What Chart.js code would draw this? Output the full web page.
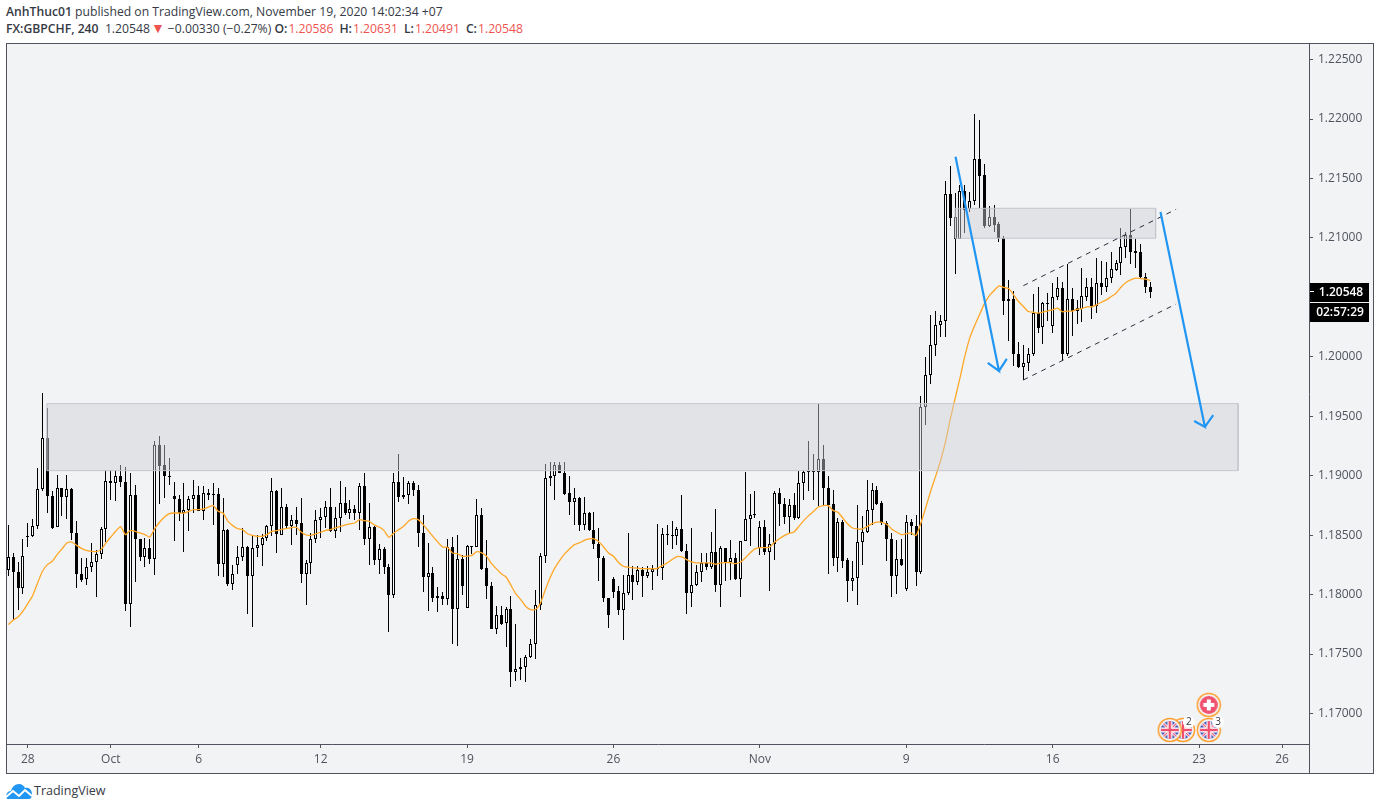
<!DOCTYPE html>
<html>
<head>
<meta charset="utf-8">
<title>GBPCHF 240</title>
<script src="https://cdn.jsdelivr.net/npm/chart.js@4/dist/chart.umd.js"></script>
<style>
  html, body { margin: 0; padding: 0; background: #fff; width: 1380px; height: 810px; overflow: hidden; font-family: "Open Sans", sans-serif; color: #363a45; }
  .head { position: absolute; left: 6px; font-size: 12.2px; line-height: 16px; white-space: nowrap; }
  .head b { font-weight: 600; }
  .red { color: #ef5350; margin-left: 1px; }
  .tri { color: #ef5350; font-size: 14px; line-height: 14px; margin: 0 3px 0 1px; }
  .gap { margin-left: 6px; }
  #panel { position: absolute; left: 6px; top: 43px; width: 1366px; height: 729px; border: 1px solid #50535e; background: #f2f3f5; }
  #divider { position: absolute; left: 1302px; top: 700px; width: 1px; height: 29px; background: #50535e; }
  canvas { position: absolute; left: 0; top: 0; }
  #logo { position: absolute; left: 6px; top: 784px; }
  #brand { position: absolute; left: 34px; top: 782px; font-size: 12.5px; line-height: 18px; color: #363a45; }
</style>
</head>
<body>
<div class="head" style="top:4px"><b>AnhThuc01</b> published on TradingView.com, November 19, 2020 14:02:34 +07</div>
<div class="head" style="top:21px"><b>FX:GBPCHF, 240</b>&nbsp; 1.20548<span class="tri">▼</span>−0.00330 (−0.27%) <b>O:</b><span class="red">1.20586</span><b class="gap">H:</b><span class="red">1.20631</span><b class="gap">L:</b><span class="red">1.20491</span><b class="gap">C:</b><span class="red">1.20548</span></div>
<div id="panel"><canvas id="chart" width="1366" height="729"></canvas><div id="divider"></div></div>
<svg id="logo" width="27" height="16" viewBox="0 0 27 16"><path d="M1 15C-1 10 2 7 5 7C6 3 9 0 13 0C16 0 18 2 19 4C23 3 26 6 26 10C26 13 25 15 23 15Z" fill="#2196f3"/><polyline points="0,13 7,7 13,12 19,6 26,12" stroke="#fff" stroke-width="2" fill="none"/></svg>
<div id="brand">TradingView</div>
<script>
const opens = [
1.18207,1.18319,1.18193,1.18053,1.18490,1.18490,1.18577,1.18888,1.19316,1.18832,
1.18566,1.18896,1.18820,1.18888,1.18518,1.18174,1.18132,1.18232,1.18274,1.18342,
1.18552,1.18955,1.18938,1.18997,1.18946,1.17919,1.18837,1.18470,1.18314,1.18392,
1.18300,1.19257,1.19092,1.18998,1.18829,1.18804,1.18683,1.18708,1.18804,1.18837,
1.18700,1.18854,1.18846,1.18846,1.18255,1.18543,1.18087,1.18246,1.18314,1.18400,
1.18154,1.18392,1.18414,1.18476,1.18574,1.18871,1.18504,1.18736,1.18580,1.18627,
1.18602,1.18171,1.18266,1.18468,1.18630,1.18652,1.18739,1.18532,1.18644,1.18770,
1.18683,1.18720,1.18683,1.18913,1.18468,1.18568,1.18288,1.18384,1.18235,1.17994,
1.18946,1.18818,1.18834,1.18938,1.18879,1.18518,1.18146,1.18182,1.17969,1.17989,
1.17961,1.18400,1.17877,1.18300,1.17888,1.18409,1.18400,1.18669,1.18224,1.18076,
1.17709,1.17829,1.17759,1.17882,1.17348,1.17373,1.17392,1.17474,1.17586,1.17913,
1.18325,1.18980,1.18997,1.19089,1.19022,1.18854,1.18776,1.18812,1.18582,1.18686,
1.18546,1.18428,1.18311,1.17972,1.18132,1.18034,1.17871,1.18011,1.18168,1.18104,
1.18207,1.18154,1.18190,1.18218,1.18221,1.18510,1.18504,1.18490,1.18552,1.18367,
1.18011,1.18078,1.18190,1.18269,1.18230,1.18358,1.18078,1.18392,1.18272,1.18308,
1.18129,1.18451,1.18636,1.18680,1.18392,1.18568,1.18356,1.18428,1.18854,1.18762,
1.18650,1.18753,1.18647,1.18938,1.19039,1.19039,1.19028,1.19142,1.18899,1.18764,
1.18305,1.18610,1.18294,1.18112,1.18137,1.18440,1.18524,1.18708,1.18879,1.18773,
1.18602,1.18468,1.18154,1.18300,1.18048,1.18613,1.18580,1.18188,1.19580,1.19846,
1.20095,1.20266,1.20300,1.21369,1.20989,1.20989,1.21392,1.21241,1.21308,1.21661,
1.21526,1.21101,1.21173,1.21117,1.21000,1.20485,1.20485,1.20023,1.19911,1.19944,
1.20020,1.20367,1.20247,1.20454,1.20263,1.20501,1.20577,1.20025,1.20485,1.20387,
1.20403,1.20507,1.20585,1.20431,1.20619,1.20585,1.20661,1.20731,1.20787,1.20921,
1.21022,1.20891,1.20879,1.20669,1.20586];
const highs = [
1.18588,1.18350,1.18274,1.18470,1.18602,1.18636,1.19064,1.19694,1.19568,1.18868,
1.19005,1.18896,1.19005,1.18896,1.18619,1.18311,1.18308,1.18434,1.18378,1.18566,
1.19044,1.19044,1.19044,1.19092,1.19072,1.19022,1.18924,1.18470,1.18476,1.18470,
1.19294,1.19336,1.19260,1.19148,1.18944,1.18837,1.18938,1.18826,1.18960,1.18910,
1.18910,1.18890,1.18938,1.18896,1.18812,1.18549,1.18246,1.18406,1.18560,1.18412,
1.18490,1.18501,1.18507,1.18588,1.18980,1.18882,1.18896,1.18759,1.18669,1.18736,
1.18815,1.18294,1.18518,1.18714,1.18728,1.18784,1.18896,1.18736,1.18955,1.18904,
1.18795,1.18756,1.18938,1.19022,1.18770,1.18580,1.18426,1.18400,1.18260,1.19022,
1.19184,1.18988,1.18952,1.18952,1.18924,1.18672,1.18434,1.18232,1.18062,1.18022,
1.18468,1.18482,1.18501,1.18336,1.18420,1.18412,1.18804,1.18728,1.18462,1.18106,
1.17902,1.17902,1.17894,1.17992,1.17754,1.17468,1.17488,1.17628,1.18042,1.18350,
1.19100,1.19112,1.19114,1.19117,1.19114,1.18994,1.18896,1.18820,1.18820,1.18692,
1.18692,1.18560,1.18322,1.17972,1.18148,1.18070,1.18168,1.18518,1.18238,1.18238,
1.18230,1.18238,1.18252,1.18594,1.18560,1.18585,1.18622,1.18571,1.18840,1.18426,
1.18560,1.18252,1.18350,1.18350,1.18526,1.18720,1.18412,1.18392,1.18456,1.18350,
1.18454,1.19030,1.18848,1.18874,1.18616,1.18624,1.18510,1.18868,1.18896,1.18812,
1.18806,1.18854,1.19036,1.19050,1.19288,1.19184,1.19604,1.19260,1.19000,1.18882,
1.18644,1.18624,1.18308,1.18280,1.18756,1.18664,1.18966,1.18938,1.18916,1.18784,
1.18616,1.18518,1.18462,1.18470,1.18666,1.18636,1.18672,1.19672,1.19997,1.20353,
1.20387,1.20353,1.21479,1.21605,1.21375,1.21445,1.21445,1.21389,1.22041,1.21991,
1.21619,1.21269,1.21274,1.21134,1.21017,1.20647,1.20557,1.20123,1.20101,1.20073,
1.20527,1.20588,1.20465,1.20535,1.20619,1.20669,1.20633,1.20781,1.20577,1.20479,
1.20745,1.20661,1.20661,1.20829,1.20807,1.20801,1.20879,1.20815,1.21081,1.21053,
1.21243,1.20989,1.20947,1.20703,1.20631];
const lows = [
1.18154,1.17790,1.17874,1.18003,1.18398,1.18482,1.18549,1.18868,1.18686,1.18554,
1.18566,1.18658,1.18636,1.18462,1.18053,1.18104,1.18078,1.18188,1.17978,1.18300,
1.18442,1.18792,1.18784,1.18902,1.17860,1.17726,1.18104,1.18286,1.18230,1.18258,
1.18168,1.18764,1.18812,1.18924,1.18448,1.18622,1.18361,1.18532,1.18686,1.18706,
1.18630,1.18798,1.18582,1.18160,1.18148,1.18070,1.18036,1.18171,1.18280,1.17835,
1.17726,1.18314,1.18244,1.18454,1.18490,1.18347,1.18498,1.18560,1.18414,1.18504,
1.18095,1.17910,1.18171,1.18434,1.18476,1.18560,1.18524,1.18473,1.18524,1.18672,
1.18638,1.18624,1.18546,1.18420,1.18252,1.18252,1.18176,1.18171,1.17684,1.17969,
1.18776,1.18804,1.18762,1.18826,1.18398,1.18022,1.17860,1.17938,1.17852,1.17916,
1.17910,1.17588,1.17566,1.18000,1.17888,1.18344,1.18400,1.18210,1.17966,1.17709,
1.17672,1.17740,1.17558,1.17219,1.17272,1.17280,1.17264,1.17468,1.17454,1.17874,
1.18263,1.18916,1.18792,1.19022,1.18840,1.18672,1.18588,1.18538,1.18540,1.18538,
1.18384,1.18112,1.17936,1.17717,1.17972,1.17829,1.17616,1.17994,1.17958,1.18078,
1.17978,1.18137,1.18042,1.18160,1.18126,1.18414,1.18386,1.18420,1.18358,1.17835,
1.17894,1.18070,1.18106,1.18210,1.18218,1.18020,1.17894,1.18112,1.18120,1.18126,
1.17978,1.18448,1.18406,1.18644,1.18330,1.18330,1.18028,1.18294,1.18574,1.18594,
1.18518,1.18630,1.18638,1.18798,1.18874,1.18798,1.18742,1.18742,1.18176,1.18238,
1.18193,1.18224,1.17936,1.18034,1.17916,1.18252,1.18518,1.18588,1.18756,1.18588,
1.18286,1.17978,1.18008,1.18238,1.18028,1.18498,1.18070,1.18174,1.19423,1.19773,
1.20003,1.20168,1.20163,1.21101,1.20697,1.20989,1.21039,1.21221,1.21277,1.21255,
1.21084,1.21095,1.21050,1.20966,1.20353,1.20137,1.19919,1.19905,1.19807,1.19877,
1.20003,1.20199,1.20109,1.20305,1.20199,1.20479,1.19969,1.20009,1.20177,1.20277,
1.20289,1.20473,1.20319,1.20367,1.20521,1.20546,1.20619,1.20725,1.20689,1.20835,
1.20781,1.20745,1.20661,1.20535,1.20491];
const closes = [
1.18319,1.18188,1.18053,1.18325,1.18493,1.18577,1.18888,1.19316,1.18826,1.18563,
1.18896,1.18820,1.18888,1.18515,1.18171,1.18126,1.18232,1.18274,1.18342,1.18552,
1.18952,1.18935,1.18994,1.18944,1.17919,1.18837,1.18465,1.18314,1.18392,1.18300,
1.19257,1.19084,1.18994,1.18986,1.18801,1.18686,1.18711,1.18804,1.18837,1.18706,
1.18854,1.18834,1.18834,1.18255,1.18543,1.18087,1.18171,1.18319,1.18403,1.18154,
1.18392,1.18417,1.18476,1.18580,1.18871,1.18507,1.18736,1.18580,1.18627,1.18596,
1.18171,1.18266,1.18468,1.18627,1.18652,1.18736,1.18532,1.18644,1.18770,1.18683,
1.18720,1.18683,1.18913,1.18468,1.18568,1.18288,1.18384,1.18230,1.17994,1.18946,
1.18818,1.18834,1.18938,1.18879,1.18515,1.18146,1.18182,1.17969,1.17989,1.17961,
1.18400,1.17877,1.18300,1.18070,1.18409,1.18398,1.18669,1.18218,1.18070,1.17709,
1.17829,1.17754,1.17882,1.17348,1.17376,1.17392,1.17476,1.17586,1.17913,1.18325,
1.18980,1.18997,1.19089,1.19022,1.18848,1.18776,1.18812,1.18582,1.18686,1.18540,
1.18423,1.18305,1.17969,1.17826,1.18025,1.17868,1.18014,1.18165,1.18104,1.18207,
1.18154,1.18190,1.18218,1.18224,1.18510,1.18498,1.18490,1.18552,1.18364,1.18011,
1.18081,1.18190,1.18269,1.18230,1.18358,1.18078,1.18392,1.18272,1.18308,1.18129,
1.18451,1.18636,1.18669,1.18666,1.18568,1.18356,1.18426,1.18854,1.18759,1.18650,
1.18753,1.18644,1.18938,1.19028,1.19028,1.19028,1.19142,1.18893,1.18753,1.18305,
1.18610,1.18286,1.18112,1.18140,1.18442,1.18526,1.18711,1.18879,1.18764,1.18602,
1.18465,1.18154,1.18300,1.18252,1.18610,1.18574,1.18188,1.19576,1.19846,1.20095,
1.20266,1.20300,1.21367,1.21171,1.21173,1.21392,1.21235,1.21308,1.21661,1.21523,
1.21101,1.21173,1.21112,1.21000,1.20473,1.20473,1.20020,1.19911,1.19947,1.20023,
1.20367,1.20244,1.20451,1.20448,1.20501,1.20577,1.20025,1.20485,1.20387,1.20409,
1.20510,1.20585,1.20429,1.20619,1.20585,1.20661,1.20737,1.20787,1.20921,1.21025,
1.20885,1.20877,1.20669,1.20583,1.20548];
const movingAverage = [
1.17748,1.17784,1.17812,1.17860,1.17924,1.17992,1.18098,1.18196,1.18252,1.18280,
1.18336,1.18384,1.18434,1.18442,1.18414,1.18389,1.18372,1.18364,1.18361,1.18378,
1.18434,1.18484,1.18532,1.18571,1.18504,1.18540,1.18532,1.18518,1.18504,1.18484,
1.18554,1.18608,1.18652,1.18680,1.18686,1.18686,1.18686,1.18700,1.18714,1.18714,
1.18720,1.18736,1.18748,1.18700,1.18686,1.18616,1.18580,1.18554,1.18546,1.18512,
1.18498,1.18490,1.18490,1.18504,1.18532,1.18538,1.18549,1.18554,1.18563,1.18566,
1.18526,1.18501,1.18498,1.18510,1.18524,1.18540,1.18546,1.18560,1.18574,1.18585,
1.18594,1.18602,1.18630,1.18622,1.18616,1.18585,1.18568,1.18538,1.18482,1.18518,
1.18546,1.18574,1.18616,1.18638,1.18630,1.18588,1.18540,1.18490,1.18442,1.18400,
1.18398,1.18350,1.18344,1.18322,1.18322,1.18330,1.18361,1.18350,1.18322,1.18260,
1.18218,1.18176,1.18148,1.18078,1.18006,1.17958,1.17902,1.17874,1.17874,1.17924,
1.18036,1.18140,1.18224,1.18288,1.18342,1.18384,1.18420,1.18434,1.18456,1.18468,
1.18468,1.18445,1.18400,1.18350,1.18322,1.18272,1.18238,1.18230,1.18224,1.18221,
1.18218,1.18218,1.18216,1.18221,1.18244,1.18266,1.18294,1.18319,1.18316,1.18294,
1.18274,1.18266,1.18266,1.18266,1.18266,1.18255,1.18266,1.18269,1.18269,1.18260,
1.18272,1.18308,1.18350,1.18384,1.18395,1.18395,1.18398,1.18440,1.18470,1.18496,
1.18515,1.18526,1.18574,1.18622,1.18664,1.18700,1.18736,1.18748,1.18748,1.18708,
1.18692,1.18644,1.18594,1.18560,1.18552,1.18552,1.18571,1.18596,1.18610,1.18608,
1.18591,1.18552,1.18526,1.18504,1.18512,1.18518,1.18496,1.18602,1.18732,1.18869,
1.18992,1.19121,1.19278,1.19471,1.19647,1.19821,1.20003,1.20157,1.20261,1.20353,
1.20445,1.20513,1.20557,1.20597,1.20583,1.20574,1.20521,1.20465,1.20423,1.20381,
1.20375,1.20367,1.20375,1.20387,1.20395,1.20409,1.20378,1.20384,1.20384,1.20401,
1.20406,1.20420,1.20420,1.20437,1.20459,1.20479,1.20507,1.20535,1.20585,1.20625,
1.20647,1.20661,1.20658,1.20653,1.20641];

const priceTicks = [1.225, 1.22, 1.215, 1.21, 1.205, 1.2, 1.195, 1.19, 1.185, 1.18, 1.175, 1.17];
const dateTickBars = [4, 21, 39, 64, 94, 124, 154, 184, 214, 244, 261];
const dateTickLabels = ["28", "Oct", "6", "12", "19", "26", "Nov", "9", "16", "23", "26"];

// drawings, x in bar numbers, y in prices
const lowerZoneBars = [7.9, 252, 252, 7.9, 7.9];
const lowerZonePrices = [1.19606, 1.19606, 1.19042, 1.19042, 1.19606];
const upperZoneBars = [194, 235.1, 235.1, 194, 194];
const upperZonePrices = [1.21249, 1.21249, 1.20997, 1.20997, 1.21249];
const channelTopBars = [208, 239.3];
const channelTopPrices = [1.20598, 1.21241];
const channelBottomBars = [208, 239.3];
const channelBottomPrices = [1.19805, 1.20444];
const firstArrowBars = [194.1, 203, 200.7, 203, 204.6];
const firstArrowPrices = [1.21683, 1.19881, 1.19948, 1.19881, 1.19982];
const secondArrowBars = [236.1, 245.2, 243, 245.2, 246.9];
const secondArrowPrices = [1.21218, 1.1941, 1.1946, 1.1941, 1.1951];
const eventBars = [240.7, 238, 246, 246];
const eventPrices = [1.16861, 1.16861, 1.16861, 1.17072];
const eventKinds = ["gb", "gb", "gb", "ch"];
const badgeBars = [241.9, 247.9];
const badgePrices = [1.16929, 1.16929];
const badgeTexts = ["2", "3"];

const lastPrice = "1.20548";
const countdown = "02:57:29";

const axisColor = "#50535e";
const xy = (xs, ys) => xs.map((x, i) => ({ x: x, y: ys[i] }));

function eventIcon(kind) {
  const c = document.createElement("canvas");
  c.width = 26; c.height = 26;
  const g = c.getContext("2d");
  g.beginPath(); g.arc(13, 13, 11.5, 0, Math.PI * 2);
  g.fillStyle = "#f2f3f5"; g.fill();
  g.strokeStyle = "#ff9f2e"; g.lineWidth = 1.5; g.stroke();
  g.save();
  g.beginPath(); g.arc(13, 13, 9, 0, Math.PI * 2); g.clip();
  if (kind === "ch") {
    g.fillStyle = "#f0506e"; g.fillRect(0, 0, 26, 26);
    g.fillStyle = "#fff"; g.fillRect(11, 7.5, 4, 11); g.fillRect(7.5, 11, 11, 4);
  } else {
    g.fillStyle = "#3f51b5"; g.fillRect(0, 0, 26, 26);
    g.strokeStyle = "#fff"; g.lineWidth = 3;
    g.beginPath(); g.moveTo(3, 3); g.lineTo(23, 23); g.moveTo(23, 3); g.lineTo(3, 23); g.stroke();
    g.strokeStyle = "#f0506e"; g.lineWidth = 1.2; g.stroke();
    g.fillStyle = "#fff"; g.fillRect(10.5, 0, 5, 26); g.fillRect(0, 10.5, 26, 5);
    g.fillStyle = "#f0506e"; g.fillRect(11.8, 0, 2.4, 26); g.fillRect(0, 11.8, 26, 2.4);
  }
  g.restore();
  return c;
}

// whole pixel candles, the way the original is drawn
const snapCandles = {
  id: "snapCandles",
  beforeDatasetsDraw(chart) {
    [0, 1].forEach(n => {
      chart.getDatasetMeta(n).data.forEach(el => {
        el.x = Math.floor(el.x) + 0.5;
        el.y = Math.round(el.y);
        el.base = Math.round(el.base);
        if (el.y === el.base) el.base = el.y + 1;
      });
    });
  }
};

const extras = {
  id: "extras",
  afterDraw(chart) {
    const ctx = chart.ctx, sx = chart.scales.x, sy = chart.scales.y;
    ctx.save();
    ctx.textAlign = "center";
    ctx.textBaseline = "middle";
    badgeTexts.forEach((t, i) => {
      const px = sx.getPixelForValue(badgeBars[i]), py = sy.getPixelForValue(badgePrices[i]);
      ctx.beginPath(); ctx.arc(px, py, 6, 0, Math.PI * 2);
      ctx.fillStyle = "#fff"; ctx.fill();
      ctx.fillStyle = "#363a45"; ctx.font = '10px "Open Sans"';
      ctx.fillText(t, px, py);
    });
    const y = Math.round(sy.getPixelForValue(parseFloat(lastPrice)));
    const left = chart.chartArea.right + 1;
    ctx.fillStyle = "#000";
    ctx.fillRect(left, y - 9, 59, 19);
    ctx.fillRect(left, y + 11, 59, 19);
    ctx.fillStyle = "#fff";
    ctx.fillRect(left, y - 1, 4, 1);
    ctx.font = '600 12px "Open Sans"';
    ctx.fillText(lastPrice, left + 31, y + 1);
    ctx.fillText(countdown, left + 30, y + 21);
    ctx.restore();
  }
};

new Chart(document.getElementById("chart"), {
  type: "bar",
  plugins: [snapCandles, extras],
  data: {
    datasets: [
      {
        label: "wicks",
        data: lows.map((l, i) => ({ x: i, y: [l, highs[i]] })),
        backgroundColor: "#000",
        borderWidth: 0,
        barThickness: 1,
        grouped: false,
        inflateAmount: 0,
        order: 6
      },
      {
        label: "bodies",
        data: opens.map((o, i) => ({ x: i, y: [o, closes[i]] })),
        backgroundColor: opens.map((o, i) => closes[i] >= o ? "#fff" : "#000"),
        borderColor: "#000",
        borderWidth: 1,
        borderSkipped: false,
        barThickness: 3,
        grouped: false,
        inflateAmount: 0,
        order: 5
      },
      {
        type: "line", label: "EMA",
        data: movingAverage.map((v, i) => ({ x: i, y: v })),
        borderColor: "#ffa726", borderWidth: 1.3, pointRadius: 0, tension: 0.2, order: 4
      },
      {
        type: "line", label: "lower zone",
        data: xy(lowerZoneBars, lowerZonePrices),
        borderColor: "#c3c6cd", borderWidth: 1, backgroundColor: "rgba(205,209,216,0.45)",
        fill: "shape", pointRadius: 0, order: 3
      },
      {
        type: "line", label: "upper zone",
        data: xy(upperZoneBars, upperZonePrices),
        borderColor: "#c3c6cd", borderWidth: 1, backgroundColor: "rgba(205,209,216,0.45)",
        fill: "shape", pointRadius: 0, order: 3
      },
      {
        type: "line", label: "channel top",
        data: xy(channelTopBars, channelTopPrices),
        borderColor: "#2a2e39", borderWidth: 1, borderDash: [5, 5], pointRadius: 0, order: 2
      },
      {
        type: "line", label: "channel bottom",
        data: xy(channelBottomBars, channelBottomPrices),
        borderColor: "#2a2e39", borderWidth: 1, borderDash: [5, 5], pointRadius: 0, order: 2
      },
      {
        type: "line", label: "first arrow",
        data: xy(firstArrowBars, firstArrowPrices),
        borderColor: "#2196f3", borderWidth: 2.2, pointRadius: 0, order: 1
      },
      {
        type: "line", label: "second arrow",
        data: xy(secondArrowBars, secondArrowPrices),
        borderColor: "#2196f3", borderWidth: 2.2, pointRadius: 0, order: 1
      },
      {
        type: "line", label: "events",
        data: xy(eventBars, eventPrices),
        showLine: false,
        pointStyle: eventKinds.map(eventIcon),
        order: 0
      }
    ]
  },
  options: {
    responsive: false,
    animation: false,
    events: [],
    layout: { padding: 0, autoPadding: false },
    plugins: { legend: { display: false }, tooltip: { enabled: false } },
    scales: {
      x: {
        type: "linear",
        offset: false,
        min: -0.27,
        max: 266.53,
        afterBuildTicks: s => { s.ticks = dateTickBars.map(v => ({ value: v })); },
        afterFit: s => { s.height = 29; s.paddingLeft = 0; s.paddingRight = 0; },
        grid: { offset: false, drawOnChartArea: false, tickLength: 4, color: axisColor },
        border: { color: axisColor },
        ticks: {
          autoSkip: false, maxRotation: 0, padding: 4, color: axisColor,
          font: { family: "Open Sans", size: 12 },
          callback: v => dateTickLabels[dateTickBars.indexOf(v)]
        }
      },
      y: {
        type: "linear",
        position: "right",
        min: 1.16743,
        max: 1.22631,
        afterBuildTicks: s => { s.ticks = priceTicks.map(v => ({ value: v })); },
        afterFit: s => { s.width = 64; s.paddingTop = 0; s.paddingBottom = 0; },
        grid: { drawOnChartArea: false, tickLength: 4, color: axisColor },
        border: { color: axisColor },
        ticks: {
          padding: 5, color: axisColor,
          font: { family: "Open Sans", size: 12 },
          callback: v => v.toFixed(5)
        }
      }
    }
  }
});
</script>
</body>
</html>
